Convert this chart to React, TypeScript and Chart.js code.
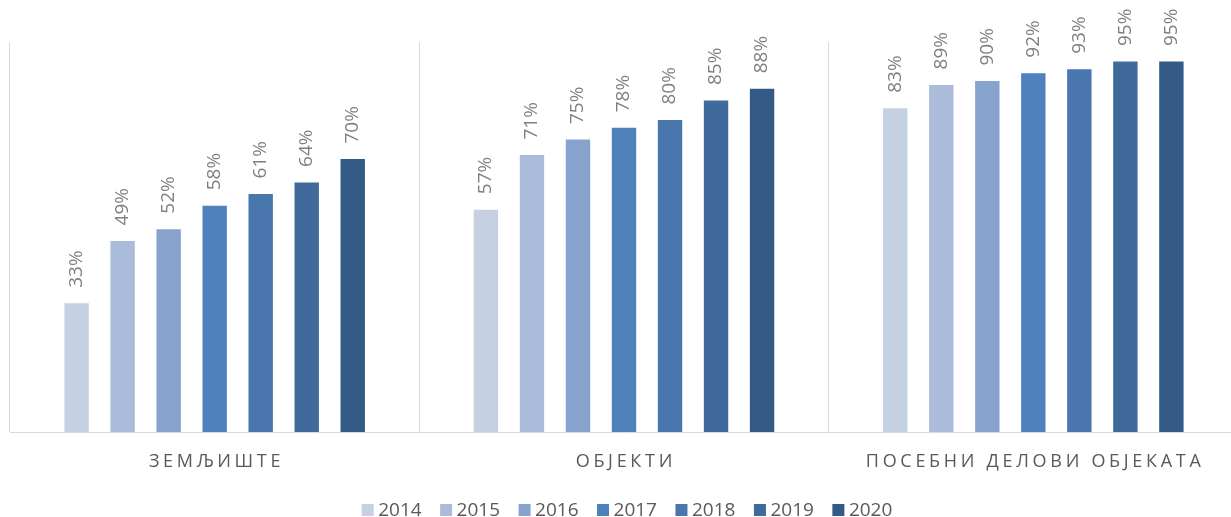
import React, { useEffect, useRef } from "react";
import { Chart, registerables } from "chart.js";

Chart.register(...registerables);

const categories = ["ЗЕМЉИШТЕ", "ОБЈЕКТИ", "ПОСЕБНИ ДЕЛОВИ ОБЈЕКАТА"];
const years = ["2014", "2015", "2016", "2017", "2018", "2019", "2020"];
const v2014 = [33, 57, 83];
const v2015 = [49, 71, 89];
const v2016 = [52, 75, 90];
const v2017 = [58, 78, 92];
const v2018 = [61, 80, 93];
const v2019 = [64, 85, 95];
const v2020 = [70, 88, 95];
const seriesValues = [v2014, v2015, v2016, v2017, v2018, v2019, v2020];
const seriesColors = ["#C5D0E2", "#ABBBDA", "#87A2CD", "#4F81BD", "#4876AD", "#3F6A9B", "#345A86"];

const FONT = "'Open Sans', 'Noto Sans', sans-serif";

const labelsPlugin = {
  id: "customLabels",
  afterDatasetsDraw(chart: any) {
    const ctx = chart.ctx as CanvasRenderingContext2D;
    ctx.save();
    ctx.font = `19px ${FONT}`;
    ctx.fillStyle = "#7F7F7F";
    ctx.textAlign = "left";
    ctx.textBaseline = "middle";
    chart.data.datasets.forEach((ds: any, di: number) => {
      const meta = chart.getDatasetMeta(di);
      meta.data.forEach((bar: any, i: number) => {
        const text = `${ds.data[i]}%`;
        ctx.save();
        ctx.translate(bar.x, bar.y - 15.5);
        ctx.rotate(-Math.PI / 2);
        ctx.fillText(text, 0, 0);
        ctx.restore();
      });
    });
    ctx.restore();
  },
  afterDraw(chart: any) {
    const ctx = chart.ctx as CanvasRenderingContext2D;
    const xScale = chart.scales.x;
    // category labels
    ctx.save();
    ctx.font = `18px ${FONT}`;
    ctx.fillStyle = "#595959";
    ctx.textAlign = "center";
    ctx.textBaseline = "alphabetic";
    const spacing = 3.7;
    (ctx as any).letterSpacing = `${spacing}px`;
    categories.forEach((c, i) => {
      const x = xScale.getPixelForValue(i);
      ctx.fillText(c, x + spacing / 2, 466.5);
    });
    ctx.restore();

    // legend
    ctx.save();
    ctx.font = `19px ${FONT}`;
    ctx.textAlign = "left";
    ctx.textBaseline = "alphabetic";
    const box = 12;
    const gap = 4.5;
    const itemGap = 18.5;
    const items = chart.data.datasets.map((ds: any) => ({
      text: ds.label as string,
      color: ds.backgroundColor as string,
      w: box + gap + ctx.measureText(ds.label).width,
    }));
    const total = items.reduce((s: number, it: any) => s + it.w, 0) + itemGap * (items.length - 1);
    const center = (chart.chartArea.left + chart.chartArea.right) / 2 + 3;
    let x = center - total / 2;
    items.forEach((it: any) => {
      ctx.fillStyle = it.color;
      ctx.fillRect(x, 504, box, box);
      ctx.fillStyle = "#595959";
      ctx.fillText(it.text, x + box + gap, 515.5);
      x += it.w + itemGap;
    });
    ctx.restore();
  },
};

export default function App() {
  const ref = useRef<HTMLCanvasElement | null>(null);

  useEffect(() => {
    document.documentElement.style.overflow = "hidden";
    document.body.style.overflow = "hidden";
    if (!ref.current) return;
    const chart = new Chart(ref.current, {
      type: "bar",
      data: {
        labels: categories,
        datasets: years.map((y, i) => ({
          label: y,
          data: seriesValues[i],
          backgroundColor: seriesColors[i],
          borderWidth: 0,
          categoryPercentage: 0.787,
          barPercentage: 0.53,
        })),
      },
      options: {
        responsive: true,
        maintainAspectRatio: false,
        animation: false,
        layout: { padding: { left: 10, right: 2, top: 42, bottom: 0 } },
        plugins: {
          tooltip: { enabled: false },
          title: { display: false },
          legend: { display: false },
        },
        scales: {
          x: {
            grid: { color: "#D9D9D9", lineWidth: 1, drawTicks: false, offset: true },
            border: { color: "#D9D9D9", width: 1 },
            ticks: { display: false },
            afterFit: (scale: any) => {
              scale.height = 85;
            },
          },
          y: {
            display: false,
            min: 0,
            max: 100,
          },
        },
      },
      plugins: [labelsPlugin],
    });
    return () => chart.destroy();
  }, []);

  return (
    <div style={{ position: "absolute", left: 0, top: 0, width: 1240, height: 517 }}>
      <canvas ref={ref} />
    </div>
  );
}
